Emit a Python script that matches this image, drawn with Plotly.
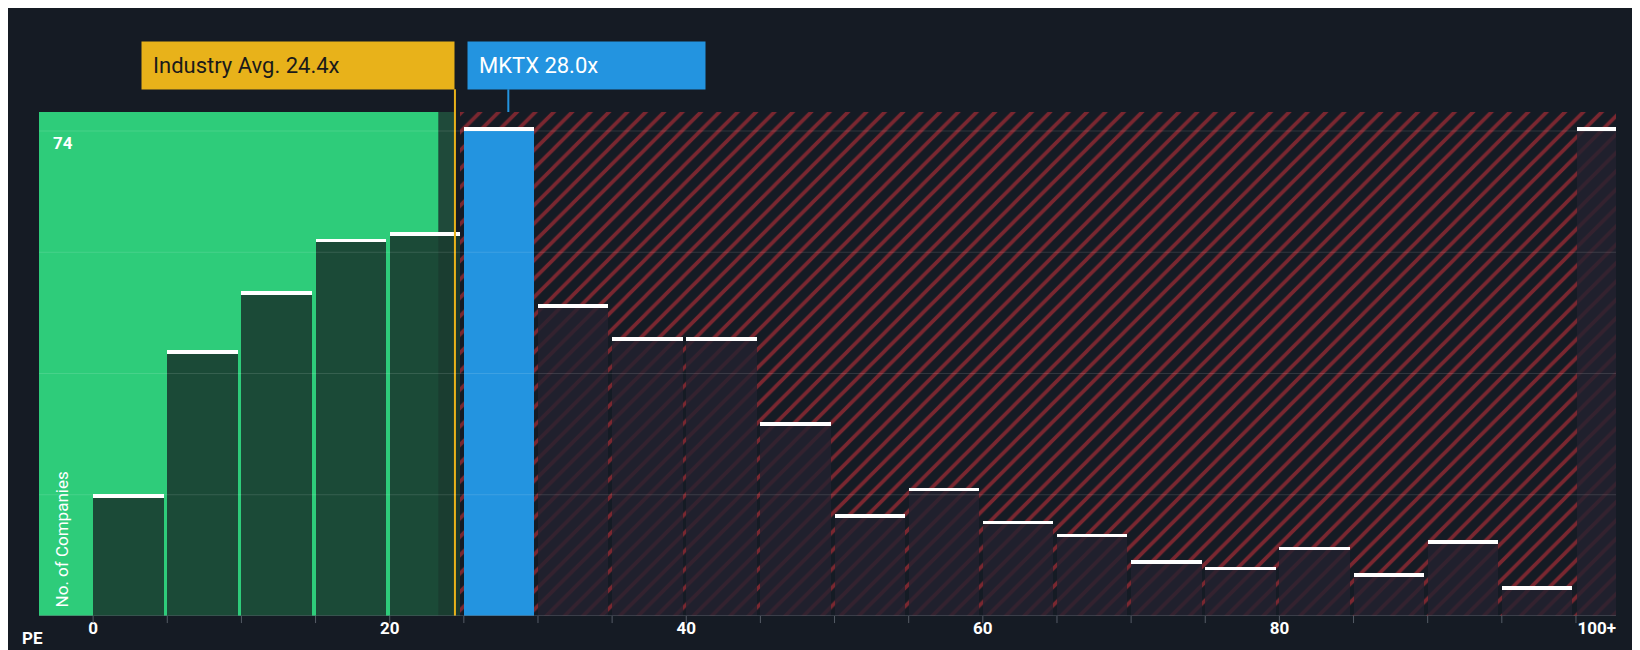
import plotly.graph_objects as go

bin_left = [0,5,10,15,20,25,30,35,40,45,50,55,60,65,70,75,80,85,90,95]
counts = [18,40,49,57,58,74,47,42,42,29,15,19,14,12,8,7,10,6,11,4]
over_count = 74
industry_avg = 24.4
company_pe = 28.0
company = "MKTX"
tick_vals = [0,20,40,60,80,101.4]
tick_text = ["0","20","40","60","80","100+"]

XMIN, XMAX, YMAX = -3.65, 102.7, 76.9
BG = "#151b24"

fig = go.Figure()
fig.add_trace(go.Bar(x=[(industry_avg+0.35+XMAX)/2], y=[YMAX], width=[XMAX-industry_avg-0.35],
    marker=dict(color=BG, line_width=0, pattern=dict(shape="/", fgcolor="#e0343c", bgcolor=BG, size=13, solidity=0.28)),
    hoverinfo="skip", showlegend=False))

xs, ws, cols = [], [], []
for b, c in zip(bin_left, counts):
    xs.append(b + 2.38); ws.append(4.75)
    if b + 5 <= industry_avg + 1:
        cols.append("rgba(25,60,48,0.9)")
    elif b <= company_pe < b + 5:
        cols.append("#2394e0")
    else:
        cols.append("rgba(35,34,48,0.8)")
xs.append(101.4); ws.append(2.6); cols.append("rgba(35,34,48,0.8)")
ys = counts + [over_count]
fig.add_trace(go.Bar(x=xs, y=ys, width=ws, marker=dict(color=cols, line_width=0), showlegend=False, hoverinfo="skip"))
fig.add_trace(go.Bar(x=xs, y=[0.55]*len(ys), base=ys, width=ws, marker=dict(color="white", line_width=0),
    showlegend=False, hoverinfo="skip"))

shapes = [
    dict(type="rect", xref="x", yref="y", x0=XMIN, x1=23.3, y0=0, y1=YMAX, fillcolor="#2ecc7a", line_width=0, layer="below"),
    dict(type="rect", xref="x", yref="y", x0=23.3, x1=industry_avg, y0=0, y1=YMAX, fillcolor="#1f4a3a", line_width=0, layer="below"),
    dict(type="line", xref="x", yref="paper", x0=industry_avg, x1=industry_avg, y0=0, y1=1.045, line=dict(color="#e8b21a", width=2)),
    dict(type="line", xref="x", yref="paper", x0=28.0, x1=28.0, y0=1.0, y1=1.045, line=dict(color="#2394e0", width=2)),
    dict(type="line", xref="x", yref="y", x0=XMIN, x1=XMAX, y0=0, y1=0, line=dict(color="#555c66", width=1)),
]
for g in [18.5, 37, 55.5, 74]:
    shapes.append(dict(type="line", xref="x", yref="y", x0=XMIN, x1=XMAX, y0=g, y1=g, line=dict(color="rgba(255,255,255,0.12)", width=1)))
for t in range(0, 105, 5):
    shapes.append(dict(type="line", xref="x", yref="paper", x0=t, x1=t, y0=0, y1=-0.014, line=dict(color="#555c66", width=1)))

ann = [
    dict(x=industry_avg, y=1.044, xref="x", yref="paper", xanchor="right", yanchor="bottom", showarrow=False,
         text="Industry Avg. 24.4x", font=dict(color="#1a1a1a", size=22, family="Roboto"), bgcolor="#e8b21a",
         borderpad=11, width=290, align="left"),
    dict(x=25.2, y=1.044, xref="x", yref="paper", xanchor="left", yanchor="bottom", showarrow=False,
         text=f"{company} {company_pe}x", font=dict(color="white", size=22, family="Roboto"), bgcolor="#2394e0",
         borderpad=11, width=215, align="left"),
    dict(x=XMIN+0.8, y=74, xref="x", yref="y", xanchor="left", yanchor="top", showarrow=False, text="<b>74</b>",
         font=dict(color="white", size=17, family="Roboto")),
    dict(x=-2.1, y=1, xref="x", yref="y", xanchor="center", yanchor="bottom", showarrow=False, text="No. of Companies",
         textangle=-90, font=dict(color="white", size=17, family="Roboto")),
    dict(x=-0.012, y=-0.02, xref="paper", yref="paper", xanchor="left", yanchor="top", showarrow=False, text="<b>PE</b>",
         font=dict(color="white", size=17, family="Roboto")),
]
fig.update_layout(width=1640, height=650, paper_bgcolor=BG, plot_bgcolor=BG, barmode="overlay", bargap=0,
    margin=dict(l=31, r=32, t=104, b=42), shapes=shapes, annotations=ann,
    xaxis=dict(range=[XMIN, XMAX], tickvals=tick_vals, ticktext=[f"<b>{t}</b>" for t in tick_text], showgrid=False, zeroline=False,
               tickfont=dict(color="white", size=17, family="Roboto"), ticks="", fixedrange=True),
    yaxis=dict(range=[0, YMAX], showgrid=False, zeroline=False, showticklabels=False, fixedrange=True))
fig.write_html("out.html")
